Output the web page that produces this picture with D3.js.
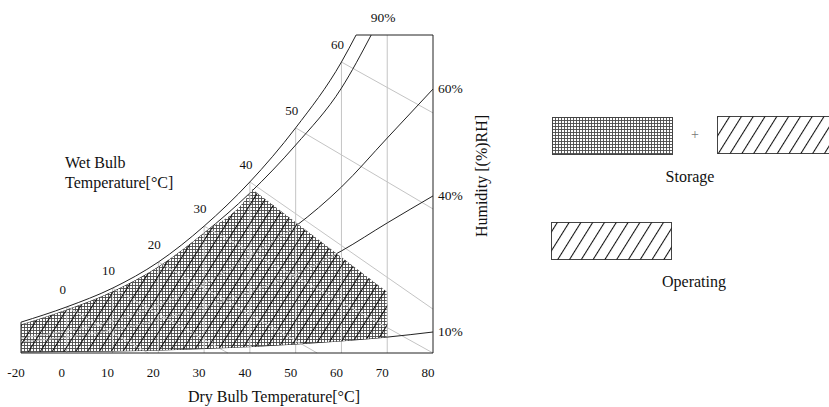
<!DOCTYPE html>
<html>
<head>
<meta charset="utf-8">
<script src="https://cdn.jsdelivr.net/npm/d3@7"></script>
<style>
	body { margin: 0; background: #fff; }
	text { font-family: "Liberation Serif", "Times New Roman", serif; fill: #111; }
</style>
</head>
<body>
<svg id="chart" width="829" height="407"></svg>
<script>
// dry bulb ticks (the chart labels its left edge "-20")
var tickTemps = [-10, 0, 10, 20, 30, 40, 50, 60, 70, 80];
var tickLabels = ['-20', '0', '10', '20', '30', '40', '50', '60', '70', '80'];
var gridTemps = [0, 10, 20, 30, 40, 50, 60, 70];

// humidity curves: [dry bulb, humidity units 0-100]
var rh100 = [[-10, 9.7], [0, 14.5], [10, 20.4], [20, 28.6], [30, 39.9], [40, 53.8], [50, 70.8], [60, 91.5], [63.2, 100]];
var rh90 = [[-10, 8.8], [0, 13.5], [10, 19.2], [20, 27.0], [30, 37.7], [40, 50.3], [50, 65.4], [60, 83.3], [66.5, 100]];
var rh60 = [[-10, 4.7], [0, 6.9], [10, 10.1], [20, 15.1], [30, 21.7], [40, 30.5], [50, 39.9], [60, 52.2], [70, 67.6], [80, 83.0]];
var rh40 = [[-10, 3.5], [0, 5.0], [10, 7.2], [20, 10.4], [30, 14.5], [40, 19.2], [50, 24.8], [60, 32.1], [70, 40.9], [80, 49.4]];
var rh10 = [[-10, 0.3], [0, 0.5], [10, 0.6], [20, 0.9], [30, 1.4], [40, 2.0], [50, 2.8], [60, 3.8], [70, 5.0], [80, 6.6]];

// wet bulb lines: start on saturation, end points
var wetTemps = [0, 10, 20, 30, 40, 50, 60];
var wetEnds = [[17.8, 0], [35.2, 0], [54.7, 0], [80, 0], [80, 13.8], [80, 45.3], [80, 75.5]];

// storage zone corner points after the 90% curve
var zoneEdge = [[40.5, 51.5], [70, 19.2], [70, 5.0]];

var svg = d3.select('#chart');

var x = d3.scaleLinear().domain([-10, 80]).range([21, 433]);
var y = d3.scaleLinear().domain([0, 100]).range([353, 35]);

var line = d3.line()
	.x(function(d) { return x(d[0]); })
	.y(function(d) { return y(d[1]); })
	.curve(d3.curveMonotoneX);

satAt = function(t) {
	var p = rh100.find(function(d) { return d[0] == t; });
	return p ? p[1] : 100;
};

// patterns
var defs = svg.append('defs');
var grid = defs.append('pattern')
	.attr('id', 'grid')
	.attr('width', 3).attr('height', 3)
	.attr('patternUnits', 'userSpaceOnUse');
grid.append('rect').attr('width', 3).attr('height', 3).style('fill', '#fff');
grid.append('path').attr('d', 'M0.5,0V3M0,0.5H3').style('stroke', '#4a4a4a').style('stroke-width', 0.9);

var diag = defs.append('pattern')
	.attr('id', 'diag')
	.attr('width', 10).attr('height', 10)
	.attr('patternUnits', 'userSpaceOnUse')
	.attr('patternTransform', 'rotate(32)');
diag.append('line')
	.attr('x1', 0.5).attr('y1', 0).attr('x2', 0.5).attr('y2', 10)
	.style('stroke', '#111').style('stroke-width', 1.1);

// zone outline
var zoneTop = rh90.filter(function(d) { return d[0] <= 40; }).concat([zoneEdge[0]]);
var zoneRest = zoneEdge.slice(1).concat(rh10.filter(function(d) { return d[0] <= 70; }).reverse());
var zonePath = line(zoneTop) + zoneRest.map(function(d) {
	return 'L' + x(d[0]) + ',' + y(d[1]);
}).join('') + 'Z';

defs.append('clipPath').attr('id', 'zoneclip')
	.append('path').attr('d', zonePath);

// gray grid + wet bulb lines
var drawGray = function(g, color) {
	g.selectAll('line.v')
		.data(gridTemps)
		.enter().append('line')
		.attr('class', 'v')
		.attr('x1', function(d) { return x(d); })
		.attr('x2', function(d) { return x(d); })
		.attr('y1', y(0))
		.attr('y2', function(d) { return y(satAt(d)); })
		.style('stroke', color)
		.style('stroke-width', 1);

	g.selectAll('line.w')
		.data(wetTemps)
		.enter().append('line')
		.attr('class', 'w')
		.attr('x1', function(d) { return x(d); })
		.attr('y1', function(d) { return y(satAt(d)); })
		.attr('x2', function(d, i) { return x(wetEnds[i][0]); })
		.attr('y2', function(d, i) { return y(wetEnds[i][1]); })
		.style('stroke', color)
		.style('stroke-width', 1);
};

drawGray(svg.append('g'), '#c4c4c4');

var curves = [rh100, rh90, rh60, rh40, rh10];

svg.append('g').selectAll('path')
	.data(curves)
	.enter().append('path')
	.attr('d', line)
	.style('fill', 'none')
	.style('stroke', '#222')
	.style('stroke-width', 1);

// frame
svg.append('path')
	.attr('d', 'M' + x(63.2) + ',' + y(100) + 'H' + x(80) + 'V' + y(0) + 'H' + x(-10) + 'V' + y(rh100[0][1]))
	.style('fill', 'none')
	.style('stroke', '#222')
	.style('stroke-width', 1);

// storage zone: cross hatch, faint lines, then diagonals
svg.append('path')
	.attr('d', zonePath)
	.style('fill', 'url(#grid)');

var inner = svg.append('g').attr('clip-path', 'url(#zoneclip)');
drawGray(inner, '#d8d8d8');
inner.selectAll('path')
	.data([rh60, rh40])
	.enter().append('path')
	.attr('d', line)
	.style('fill', 'none')
	.style('stroke', '#bbb')
	.style('stroke-width', 1);

svg.append('path')
	.attr('d', zonePath)
	.style('fill', 'url(#diag)');

// tick labels
svg.append('g').selectAll('text')
	.data(tickTemps)
	.enter().append('text')
	.attr('x', function(d) { return x(d) - 5; })
	.attr('y', 377)
	.attr('text-anchor', 'middle')
	.style('font-size', '13px')
	.text(function(d, i) { return tickLabels[i]; });

// wet bulb labels
svg.append('g').selectAll('text')
	.data(wetTemps)
	.enter().append('text')
	.attr('x', function(d) { return x(d) - 4; })
	.attr('y', function(d) { return y(satAt(d)) - 13; })
	.attr('text-anchor', 'middle')
	.style('font-size', '13px')
	.text(function(d) { return d; });

// RH labels
var rhLabels = [['90%', rh90], ['60%', rh60], ['40%', rh40], ['10%', rh10]];
svg.append('g').selectAll('text')
	.data(rhLabels)
	.enter().append('text')
	.attr('x', function(d, i) {
		var p = d[1][d[1].length - 1];
		return i == 0 ? x(p[0]) + 12 : x(p[0]) + 5;
	})
	.attr('y', function(d, i) {
		var p = d[1][d[1].length - 1];
		return i == 0 ? y(p[1]) - 13 : y(p[1]) + 4;
	})
	.attr('text-anchor', function(d, i) { return i == 0 ? 'middle' : 'start'; })
	.style('font-size', '13.5px')
	.text(function(d) { return d[0]; });

svg.append('text')
	.attr('x', 65).attr('y', 168)
	.style('font-size', '16px')
	.text('Wet Bulb');
svg.append('text')
	.attr('x', 65).attr('y', 188)
	.style('font-size', '16px')
	.text('Temperature[°C]');

svg.append('text')
	.attr('x', 274).attr('y', 402)
	.attr('text-anchor', 'middle')
	.style('font-size', '16px')
	.text('Dry Bulb Temperature[°C]');

svg.append('text')
	.attr('transform', 'translate(487,176) rotate(-90)')
	.attr('text-anchor', 'middle')
	.style('font-size', '16px')
	.text('Humidity [(%)RH]');

// legend
var legend = svg.append('g');
legend.append('rect')
	.attr('x', 552.5).attr('y', 117.5).attr('width', 120).attr('height', 37)
	.style('fill', 'url(#grid)').style('stroke', '#444');
legend.append('text')
	.attr('x', 695).attr('y', 139)
	.attr('text-anchor', 'middle')
	.style('font-size', '14px').style('fill', '#777')
	.text('+');
legend.append('rect')
	.attr('x', 717.5).attr('y', 116.5).attr('width', 125).attr('height', 37)
	.style('fill', '#fff').style('stroke', '#444');
legend.append('rect')
	.attr('x', 717.5).attr('y', 116.5).attr('width', 125).attr('height', 37)
	.style('fill', 'url(#diag)');
legend.append('text')
	.attr('x', 690).attr('y', 182)
	.attr('text-anchor', 'middle')
	.style('font-size', '16px')
	.text('Storage');

legend.append('rect')
	.attr('x', 551.5).attr('y', 222.5).attr('width', 120).attr('height', 37)
	.style('fill', '#fff').style('stroke', '#444');
legend.append('rect')
	.attr('x', 551.5).attr('y', 222.5).attr('width', 120).attr('height', 37)
	.style('fill', 'url(#diag)');
legend.append('text')
	.attr('x', 694).attr('y', 287)
	.attr('text-anchor', 'middle')
	.style('font-size', '16px')
	.text('Operating');
</script>
</body>
</html>
